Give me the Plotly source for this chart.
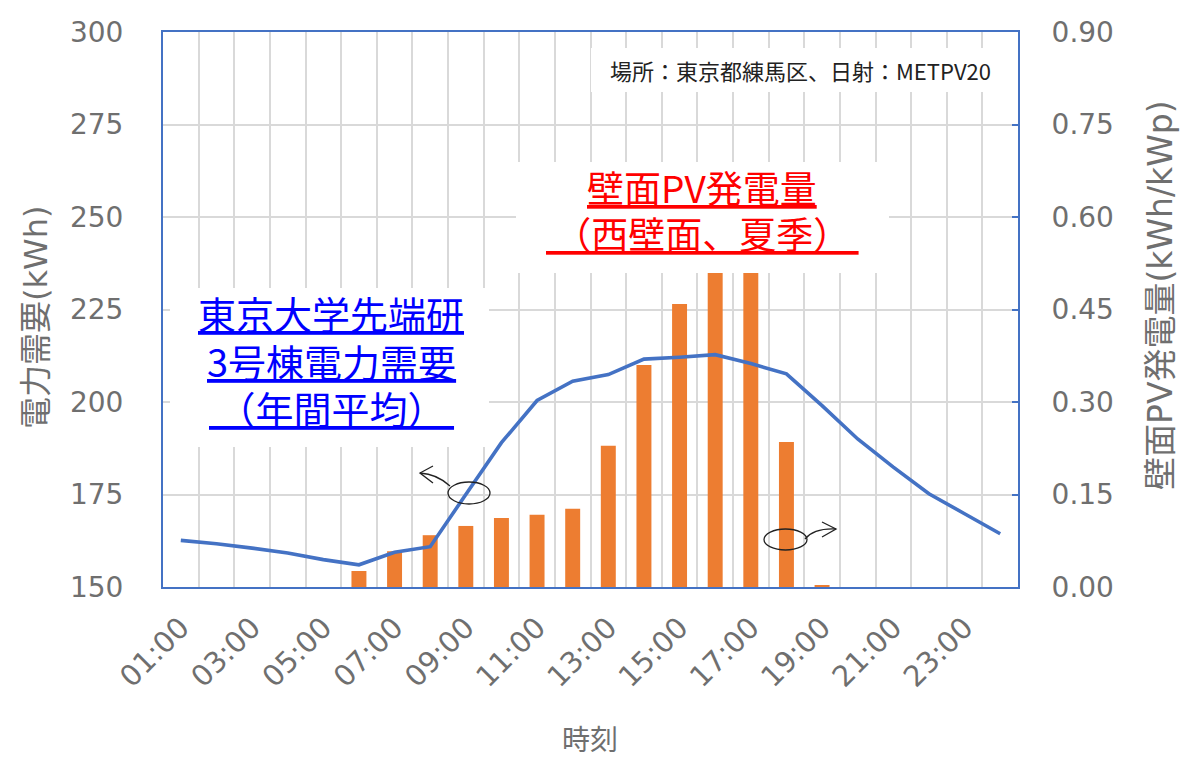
import plotly.graph_objects as go

# ---------------- data ----------------
hours = [f"{h:02d}:00" for h in range(1, 25)]
hour_labels = [h if i % 2 == 0 else "" for i, h in enumerate(hours)]

demand_kwh = [162.6, 161.7, 160.5, 159.2, 157.4, 156.0, 159.4, 160.9, 175.0, 189.0,
              200.4, 205.6, 207.4, 211.6, 212.1, 212.8, 210.4, 207.6, 199.0, 190.0,
              182.4, 175.2, 169.8, 164.4]

pv_kwh_kwp = [None, None, None, None, None, 0.026, 0.058, 0.084, 0.099, 0.112,
              0.117, 0.127, 0.229, 0.360, 0.459, 0.55, 0.55, 0.235, 0.003, None,
              None, None, None, None]

left_range = [150, 300]
right_range = [0, 0.9]

# ---------------- layout helpers ----------------
W, H = 1184, 758
L, R, T, B = 163, 1018, 32, 587


def px(x):
    return (x - L) / (R - L)


def py(y):
    return (B - y) / (B - T)


BLUE_AX = "#4472C4"
GRID = "#d9d9d9"
TICK_GRAY = "#6f6f6f"
NUMFONT = "DejaVu Sans"
JPFONT = "Noto Sans CJK JP"

fig = go.Figure()

fig.add_trace(go.Bar(
    x=hours, y=pv_kwh_kwp, yaxis="y",
    marker=dict(color="#ED7D31", line=dict(width=0)),
    name="壁面PV発電量",
))
fig.add_trace(go.Scatter(
    x=hours, y=demand_kwh, yaxis="y2", mode="lines",
    line=dict(color=BLUE_AX, width=3.6),
    name="電力需要",
))

fig.update_layout(
    width=W, height=H,
    margin=dict(l=L, r=W - R, t=T, b=H - B),
    paper_bgcolor="white", plot_bgcolor="white",
    showlegend=False,
    bargap=0.58,
    xaxis=dict(
        type="category", categoryorder="array", categoryarray=hours,
        tickmode="array", tickvals=hours, ticktext=hour_labels,
        tickson="boundaries", tickangle=-45,
        showgrid=True, gridcolor=GRID, gridwidth=2,
        showline=True, linecolor=BLUE_AX, linewidth=2, mirror=True,
        ticks="", ticklabelstandoff=10,
        tickfont=dict(family=NUMFONT, size=29, color=TICK_GRAY),
        range=[-0.5, 23.5],
    ),
    yaxis=dict(
        side="right", range=right_range, dtick=0.15, tick0=0,
        tickformat=".2f", showgrid=False, zeroline=False,
        showline=True, linecolor=BLUE_AX, linewidth=2,
        ticks="inside", ticklen=6, tickwidth=2, tickcolor=BLUE_AX,
        ticklabelstandoff=26,
        tickfont=dict(family=NUMFONT, size=28, color=TICK_GRAY),
    ),
    yaxis2=dict(
        overlaying="y", side="left", range=left_range, dtick=25, tick0=150,
        showgrid=True, gridcolor=GRID, gridwidth=2, zeroline=False,
        showline=True, linecolor=BLUE_AX, linewidth=2,
        ticks="", ticklabelstandoff=32,
        tickfont=dict(family=NUMFONT, size=28, color=TICK_GRAY),
    ),
)

shapes = []
# white text boxes (cover gridlines / bars like the original text boxes)
for (x0, y0, x1, y1) in [(591, 48, 1015, 92), (516, 162, 889, 273), (170, 288, 489, 447)]:
    shapes.append(dict(type="rect", xref="paper", yref="paper", layer="above",
                       x0=px(x0), x1=px(x1), y0=py(y1), y1=py(y0),
                       fillcolor="white", line=dict(width=0)))
# ellipses
for (x0, y0, x1, y1) in [(448, 482, 490, 504), (764, 529, 807, 550)]:
    shapes.append(dict(type="circle", xref="paper", yref="paper", layer="above",
                       x0=px(x0), x1=px(x1), y0=py(y1), y1=py(y0),
                       line=dict(color="#222222", width=1.3)))


def path(points_cmds):
    out = []
    for cmd, pts in points_cmds:
        out.append(cmd + " " + " ".join(f"{px(x):.5f},{py(y):.5f}" for x, y in pts))
    return " ".join(out)


arrow_paths = [
    path([("M", [(450, 486)]), ("Q", [(437, 474), (420, 473)])]),
    path([("M", [(433, 466)]), ("L", [(420, 473)]), ("L", [(433, 483)])]),
    path([("M", [(805, 539)]), ("Q", [(814, 528), (836, 529)])]),
    path([("M", [(822, 522)]), ("L", [(836, 529)]), ("L", [(822, 537)])]),
]
for p in arrow_paths:
    shapes.append(dict(type="path", xref="paper", yref="paper", layer="above",
                       path=p, line=dict(color="#222222", width=1.3)))

fig.update_layout(shapes=shapes)

annotations = [
    dict(text="場所：東京都練馬区、日射：METPV20", x=px(800), y=py(70),
         font=dict(family=JPFONT, size=22, color="#222222")),
    dict(text="<u>壁面PV発電量</u>", x=px(702), y=py(187),
         font=dict(family=JPFONT, size=37, color="#FF0000")),
    dict(text="<u>\u00a0（西壁面、夏季）\u00a0</u>", x=px(702), y=py(233),
         font=dict(family=JPFONT, size=37, color="#FF0000")),
    dict(text="<u>東京大学先端研</u>", x=px(331), y=py(313),
         font=dict(family=JPFONT, size=38, color="#0000FF")),
    dict(text="<u>3号棟電力需要</u>", x=px(331), y=py(360),
         font=dict(family=JPFONT, size=38, color="#0000FF")),
    dict(text="<u>\u00a0（年間平均）\u00a0</u>", x=px(331), y=py(407),
         font=dict(family=JPFONT, size=38, color="#0000FF")),
    dict(text="電力需要(kWh)", x=px(36), y=py(317), textangle=-90,
         font=dict(family=NUMFONT + ", " + JPFONT, size=32, color=TICK_GRAY)),
    dict(text="壁面PV発電量(kWh/kWp)", x=px(1160), y=py(295), textangle=-90,
         font=dict(family=NUMFONT + ", " + JPFONT, size=33, color=TICK_GRAY)),
    dict(text="時刻", x=px(590), y=py(738),
         font=dict(family=JPFONT, size=28, color=TICK_GRAY)),
]
for a in annotations:
    a.update(xref="paper", yref="paper", showarrow=False,
             xanchor="center", yanchor="middle", align="center")
fig.update_layout(annotations=annotations)

fig.write_html("out.html")
